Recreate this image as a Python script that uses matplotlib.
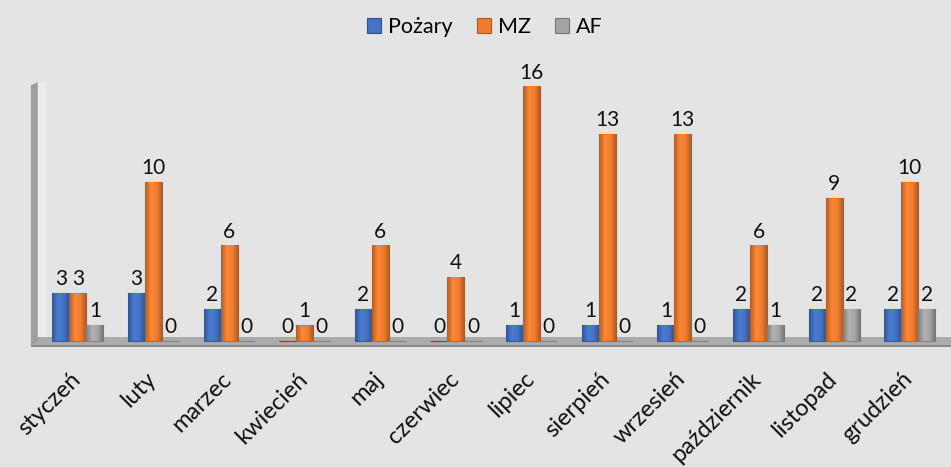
import numpy as np
import matplotlib
matplotlib.use("Agg")
import matplotlib.pyplot as plt
import matplotlib.transforms as mtransforms
from matplotlib.colors import LinearSegmentedColormap, to_rgb
from matplotlib.patches import Rectangle, Polygon

# dane
miesiace = ["styczeń", "luty", "marzec", "kwiecień", "maj", "czerwiec",
            "lipiec", "sierpień", "wrzesień", "październik", "listopad", "grudzień"]
pozary = [3, 3, 2, 0, 2, 0, 1, 1, 1, 2, 2, 2]
mz = [3, 10, 6, 1, 6, 4, 16, 13, 13, 6, 9, 10]
af = [1, 0, 0, 0, 0, 0, 0, 0, 0, 1, 2, 2]

serie = [("Pożary", pozary, "#4472C4"), ("MZ", mz, "#ED7D31"), ("AF", af, "#A5A5A5")]

plt.rcParams['font.family'] = ['Lato', 'DejaVu Sans']
bg = "#E4E4E4"

fig = plt.figure(figsize=(9.51, 4.67), dpi=100, facecolor=bg)
ax = fig.add_axes([40 / 951, 0.2561, 925 / 951, 0.5747])
ax.set_facecolor(bg)

x = np.arange(len(miesiace))
w = 0.225
ax.set_xlim(-0.5, 11.73)
ax.set_ylim(-0.4, 16.5)


def shade(c, f):
    r = np.array(to_rgb(c))
    return tuple(np.clip(r * f, 0, 1))


# podłoga i ściana boczna
ax.add_patch(Rectangle((-0.62, -0.3), 12.4, 0.55, facecolor="#ABABAB",
                       edgecolor="none", zorder=1, clip_on=False))
ax.add_patch(Rectangle((-0.62, -0.38), 12.4, 0.1, facecolor="#8C8C8C",
                       edgecolor="none", zorder=1, clip_on=False))
ax.add_patch(Polygon([(-0.62, -0.3), (-0.62, 16.1), (-0.53, 16.3), (-0.53, 0.0)],
                     closed=True, facecolor="#9E9E9E", edgecolor="none",
                     zorder=1, clip_on=False))
ax.add_patch(Rectangle((-0.53, 0.0), 0.12, 16.3, facecolor="#EBEBEB",
                       edgecolor="none", zorder=0.5, clip_on=False))

for i, (nazwa, vals, kolor) in enumerate(serie):
    pos = x + (i - 1) * w
    bars = ax.bar(pos, vals, width=w, color=kolor, edgecolor=shade(kolor, 0.8),
                  linewidth=0.8, label=nazwa, zorder=3)
    cmap = LinearSegmentedColormap.from_list(
        "cyl", [shade(kolor, 0.75), shade(kolor, 1.08), kolor, shade(kolor, 0.7)])
    grad = np.linspace(0, 1, 64).reshape(1, -1)
    for p, v in zip(pos, vals):
        if v > 0:
            ax.imshow(grad, cmap=cmap, aspect="auto", zorder=3.5,
                      extent=(p - w / 2, p + w / 2, 0, v), interpolation="bilinear")
    ax.bar_label(bars, labels=[str(v) for v in vals], padding=3, fontsize=15,
                 color="#111111", zorder=5)

ax.set_xticks(x)
ax.set_xticklabels(miesiace, rotation=45, ha="right", rotation_mode="anchor",
                   fontsize=17, color="#111111")
ax.tick_params(axis="x", length=0, pad=15)
offset = mtransforms.ScaledTranslation(-8 / 100, 0, fig.dpi_scale_trans)
for lab in ax.get_xticklabels():
    lab.set_transform(lab.get_transform() + offset)
ax.set_yticks([])
for s in ax.spines.values():
    s.set_visible(False)

leg = fig.legend(loc="upper center", bbox_to_anchor=(0.51, 1.005), ncol=3,
                 frameon=False, fontsize=15.5, handlelength=0.65, handleheight=0.7,
                 handletextpad=0.35, columnspacing=1.1)
for h, (_, _, kolor) in zip(leg.legend_handles, serie):
    h.set_edgecolor(shade(kolor, 0.7))

fig.savefig("out.png", dpi=100, facecolor=bg)
